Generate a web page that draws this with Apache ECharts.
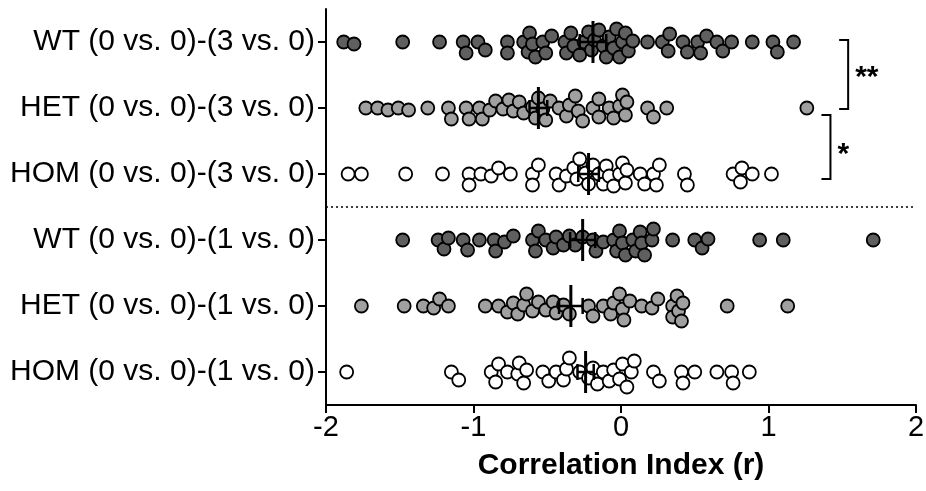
<!DOCTYPE html>
<html><head><meta charset="utf-8">
<script src="https://cdn.jsdelivr.net/npm/echarts@6/dist/echarts.min.js"></script>
<style>html,body{margin:0;padding:0;background:#fff}#c{width:926px;height:491px}</style>
</head><body><div id="c"></div>
<script>
const categories = ['WT (0 vs. 0)-(3 vs. 0)','HET (0 vs. 0)-(3 vs. 0)','HOM (0 vs. 0)-(3 vs. 0)','WT (0 vs. 0)-(1 vs. 0)','HET (0 vs. 0)-(1 vs. 0)','HOM (0 vs. 0)-(1 vs. 0)'];
const xTicks = [-2,-1,0,1,2];
const wt3 = [-1.88,-1.81,-1.48,-1.23,-1.07,-1.05,-0.97,-0.92,-0.77,-0.77,-0.66,-0.63,-0.62,-0.6,-0.58,-0.53,-0.51,-0.47,-0.38,-0.37,-0.34,-0.32,-0.28,-0.25,-0.22,-0.2,-0.18,-0.15,-0.12,-0.1,-0.08,-0.05,-0.03,-0.01,0.01,0.03,0.05,0.08,0.18,0.28,0.32,0.33,0.42,0.45,0.52,0.54,0.58,0.65,0.69,0.75,0.89,1.03,1.06,1.17];
const het3 = [-1.73,-1.65,-1.58,-1.51,-1.44,-1.31,-1.17,-1.15,-1.05,-1.03,-0.96,-0.94,-0.89,-0.85,-0.8,-0.76,-0.73,-0.69,-0.66,-0.6,-0.58,-0.56,-0.53,-0.51,-0.48,-0.42,-0.37,-0.35,-0.31,-0.29,-0.26,-0.19,-0.15,-0.15,-0.08,-0.05,-0.01,0.01,0.03,0.04,0.18,0.22,0.31,1.26];
const hom3 = [-1.85,-1.76,-1.46,-1.21,-1.03,-1.03,-0.95,-0.88,-0.83,-0.75,-0.6,-0.6,-0.56,-0.44,-0.42,-0.37,-0.32,-0.3,-0.28,-0.24,-0.22,-0.19,-0.15,-0.12,-0.1,-0.08,-0.05,-0.01,0.01,0.03,0.04,0.13,0.16,0.22,0.24,0.26,0.43,0.45,0.76,0.81,0.82,0.89,1.02];
const wt1 = [-1.48,-1.24,-1.2,-1.17,-1.07,-1.04,-0.96,-0.86,-0.85,-0.79,-0.73,-0.6,-0.58,-0.56,-0.51,-0.46,-0.44,-0.39,-0.35,-0.31,-0.26,-0.19,-0.17,-0.12,-0.05,-0.03,-0.01,0.01,0.03,0.08,0.1,0.13,0.14,0.16,0.21,0.22,0.35,0.5,0.55,0.59,0.94,1.1,1.71];
const het1 = [-1.76,-1.47,-1.34,-1.27,-1.23,-1.17,-0.92,-0.83,-0.77,-0.73,-0.7,-0.66,-0.64,-0.6,-0.56,-0.51,-0.46,-0.44,-0.39,-0.35,-0.22,-0.19,-0.12,-0.07,-0.05,-0.01,0.01,0.02,0.06,0.14,0.21,0.25,0.35,0.35,0.38,0.39,0.41,0.42,0.72,1.13];
const hom1 = [-1.86,-1.15,-1.1,-0.88,-0.85,-0.83,-0.77,-0.7,-0.69,-0.66,-0.64,-0.53,-0.49,-0.44,-0.39,-0.37,-0.35,-0.28,-0.22,-0.19,-0.16,-0.12,-0.08,-0.05,-0.01,0.01,0.04,0.07,0.09,0.22,0.26,0.41,0.42,0.5,0.65,0.75,0.76,0.87];
const means = [-0.19,-0.56,-0.22,-0.26,-0.34,-0.24];
const sems = [0.09,0.06,0.07,0.085,0.08,0.055];
const groups = [wt3, het3, hom3, wt1, het1, hom1];
const fills = ['#5f5f5f','#a0a0a0','#ffffff','#5f5f5f','#a0a0a0','#ffffff'];
const FONT = 'Arial, "Liberation Sans", sans-serif';

const chart = echarts.init(document.getElementById('c'), null, {renderer:'canvas'});
const base = {
  animation:false,
  grid:{left:326,right:10,top:9,bottom:86,outerBoundsMode:'none'},
  xAxis:{type:'value',min:-2,max:2,interval:1,
    axisLine:{show:true,onZero:false,lineStyle:{color:'#000',width:2}},
    axisTick:{show:true,length:8,lineStyle:{color:'#000',width:2}},
    splitLine:{show:false},
    axisLabel:{color:'#000',fontSize:29,fontFamily:FONT,margin:8,formatter:v=>String(v)},
    name:'Correlation Index (r)',nameLocation:'middle',nameGap:46,
    nameTextStyle:{color:'#000',fontSize:30,fontWeight:'bold',fontFamily:FONT}},
  yAxis:[{type:'category',data:categories,inverse:true,position:'left',
      axisLine:{show:true,onZero:false,lineStyle:{color:'#000',width:2}},
      axisTick:{show:true,alignWithLabel:true,length:8,lineStyle:{color:'#000',width:2}},
      axisLabel:{color:'#000',fontSize:30,fontFamily:FONT,margin:11}},
    {type:'value',min:-0.5,max:5.5,inverse:true,show:false}],
  series:[]
};
chart.setOption(base);

const pxX = chart.convertToPixel({xAxisIndex:0},1) - chart.convertToPixel({xAxisIndex:0},0);
const pxY = Math.abs(chart.convertToPixel({yAxisIndex:1},1) - chart.convertToPixel({yAxisIndex:1},0));

function swarm(vals, row){
  const minD = 10.5, maxOff = 15;
  const order = vals.map((v,i)=>i).sort((a,b)=>vals[a]-vals[b]);
  const placed = []; const res = [];
  for (const i of order){
    const px = vals[i]*pxX;
    let chosen = null, bestScore = -1, bestCand = 0;
    for (let k=0;k<=maxOff*2;k++){
      const cand = (k%2===1?1:-1)*Math.ceil(k/2);
      let md = Infinity;
      for (const p of placed){
        if (Math.abs(p.x-px) > minD) continue;
        const d = Math.hypot(p.x-px, p.y-cand);
        if (d<md) md=d;
      }
      if (md>=minD){chosen=cand;break;}
      if (md>bestScore){bestScore=md;bestCand=cand;}
    }
    if (chosen===null) chosen=bestCand;
    placed.push({x:px,y:chosen});
    res.push([vals[i], row + chosen/pxY]);
  }
  return res;
}

const series = groups.map((g,gi)=>({
  type:'scatter', xAxisIndex:0, yAxisIndex:1,
  symbol:'circle', symbolSize:13,
  itemStyle:{color:fills[gi],borderColor:'#000',borderWidth:1.8,opacity:1},
  data: swarm(g, gi), z:2, silent:true
}));
series[0].markLine = {silent:true,symbol:'none',label:{show:false},
  lineStyle:{color:'#000',type:[2,3],width:1.5},data:[{yAxis:2.5}]};

series.push({
  type:'custom', xAxisIndex:0, yAxisIndex:1, z:5, silent:true,
  data: means.map((m,i)=>[m,i,sems[i]]),
  encode:{x:0,y:1},
  renderItem(params, api){
    const m=api.value(0), row=api.value(1), s=api.value(2);
    const c=api.coord([m,row]), l=api.coord([m-s,row]), r=api.coord([m+s,row]);
    const st={stroke:'#000',lineWidth:3};
    return {type:'group',children:[
      {type:'line',shape:{x1:c[0],y1:c[1]-21,x2:c[0],y2:c[1]+21},style:st},
      {type:'line',shape:{x1:l[0],y1:c[1],x2:r[0],y2:c[1]},style:{stroke:'#000',lineWidth:2.5}},
      {type:'line',shape:{x1:l[0],y1:c[1]-8,x2:l[0],y2:c[1]+8},style:{stroke:'#000',lineWidth:2.5}},
      {type:'line',shape:{x1:r[0],y1:c[1]-8,x2:r[0],y2:c[1]+8},style:{stroke:'#000',lineWidth:2.5}}
    ]};
  }
});

const sigPairs = [[0,1,'**'],[1,2,'*']];
const bracketX = [1.54, 1.42];
const bracketOff = [[-2,1],[7,5]];
series.push({
  type:'custom', xAxisIndex:0, yAxisIndex:1, z:5, silent:true, clip:false,
  data: sigPairs,
  encode:{x:0,y:1},
  renderItem(params, api){
    const i=params.dataIndex;
    const a=api.value(0), b=api.value(1);
    const p1=api.coord([bracketX[i],a]), p2=api.coord([bracketX[i],b]);
    const y1=p1[1]+bracketOff[i][0], y2=p2[1]+bracketOff[i][1], x=p1[0];
    const st={stroke:'#000',lineWidth:2,fill:'none'};
    return {type:'group',children:[
      {type:'polyline',shape:{points:[[x-9,y1],[x,y1],[x,y2],[x-9,y2]]},style:st},
      {type:'text',style:{text:sigPairs[i][2],x:x+7,y:(y1+y2)/2+ (i===0?3:8),align:'left',verticalAlign:'middle',
        font:'bold 30px '+FONT,fill:'#000'}}
    ]};
  }
});

chart.setOption({series});
</script></body></html>
